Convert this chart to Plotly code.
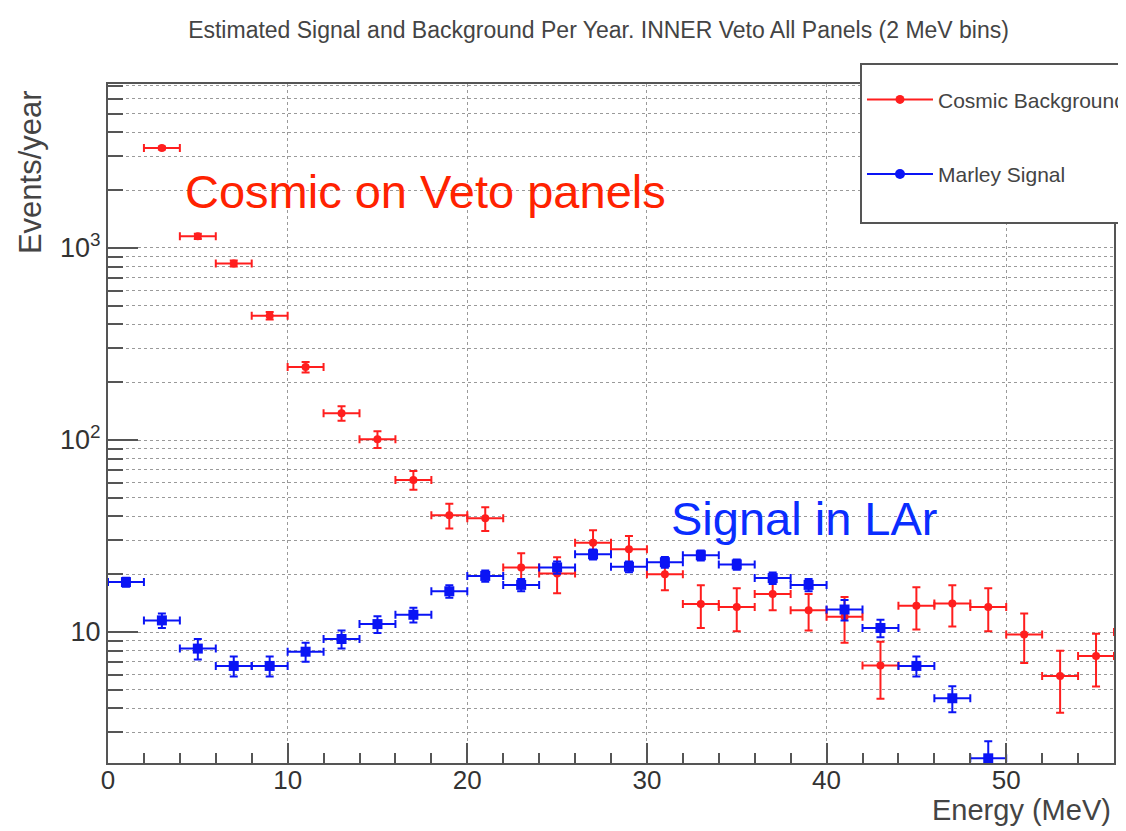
import plotly.graph_objects as go

# ---------------- data ----------------
cosmic_energy = [3, 5, 7, 9, 11, 13, 15, 17, 19, 21, 23, 25, 27, 29, 31, 33, 35, 37, 39, 41, 43, 45, 47, 49, 51, 53, 55, 57]
cosmic_rate = [3320, 1150, 830, 444, 240, 138, 101, 62, 40.6, 39.1, 21.7, 20.2, 29.2, 27.0, 20.0, 14.0, 13.5, 15.8, 13.0, 12.0, 6.7, 13.7, 14.1, 13.5, 9.7, 5.9, 7.5, 10.0]
cosmic_err = [60, 35, 30, 20, 15, 12, 10, 7, 6, 5.5, 4.0, 4.3, 4.7, 4.6, 3.5, 3.5, 3.4, 2.8, 2.8, 3.2, 2.2, 3.4, 3.4, 3.4, 2.8, 2.1, 2.3, 2.8]

signal_energy = [1, 3, 5, 7, 9, 11, 13, 15, 17, 19, 21, 23, 25, 27, 29, 31, 33, 35, 37, 39, 41, 43, 45, 47, 49]
signal_rate = [18.2, 11.5, 8.2, 6.66, 6.66, 7.9, 9.2, 11.0, 12.3, 16.3, 19.6, 17.6, 21.7, 25.4, 21.9, 23.1, 25.1, 22.5, 19.1, 17.6, 13.1, 10.5, 6.66, 4.52, 2.2]
signal_err = [1.0, 1.0, 1.0, 0.8, 0.8, 0.9, 1.0, 1.1, 1.1, 1.2, 1.3, 1.3, 1.6, 1.5, 1.4, 1.5, 1.5, 1.4, 1.3, 1.3, 1.6, 1.1, 0.8, 0.7, 0.5]

bin_half_width = 1.0  # 2 MeV bins

x_major = [0, 10, 20, 30, 40, 50]
x_minor = [v for v in range(2, 56, 2) if v % 10 != 0]
y_major = [10, 100, 1000]
y_major_text = ["10", "10<sup>2</sup>", "10<sup>3</sup>"]
y_minor = [m * 10 ** e for e in range(0, 4) for m in range(2, 10) if m * 10 ** e < 8000]

RED = "#FF1E1E"
BLUE = "#0A14F5"
FONT = "Arial, Liberation Sans, Helvetica, sans-serif"
AX = "#555555"
GRID = "#9a9a9a"

fig = go.Figure()

fig.add_trace(go.Scatter(
    x=cosmic_energy, y=cosmic_rate, mode="markers",
    marker=dict(symbol="circle", size=8, color=RED),
    error_x=dict(type="constant", value=bin_half_width, color=RED, thickness=2, width=4),
    error_y=dict(type="data", array=cosmic_err, color=RED, thickness=2, width=4),
    showlegend=False, name="Cosmic Background"))

fig.add_trace(go.Scatter(
    x=signal_energy, y=signal_rate, mode="markers",
    marker=dict(symbol="square", size=10, color=BLUE),
    error_x=dict(type="constant", value=bin_half_width, color=BLUE, thickness=2, width=4),
    error_y=dict(type="data", array=signal_err, color=BLUE, thickness=2, width=4),
    showlegend=False, name="Marley Signal"))

# legend entries
fig.add_trace(go.Scatter(x=[None], y=[None], mode="lines+markers", name="Cosmic Background<br>&nbsp;",
                         line=dict(color=RED, width=2), marker=dict(color=RED, size=9),
                         legendgroup="a"))
fig.add_trace(go.Scatter(x=[None], y=[None], mode="lines+markers", name="Marley Signal<br>&nbsp;",
                         line=dict(color=BLUE, width=2), marker=dict(color=BLUE, size=10),
                         legendgroup="b"))

fig.update_layout(
    width=1118, height=823,
    paper_bgcolor="white", plot_bgcolor="white",
    margin=dict(l=100, r=12, t=76, b=68, autoexpand=False),
    font=dict(family=FONT, color="#333333"),
    title=dict(text="Estimated Signal and Background Per Year. INNER Veto All Panels (2 MeV bins)",
               x=0.5282, xanchor="center", y=0.9733, yanchor="middle",
               font=dict(size=23, color="#444444", family=FONT)),
    showlegend=True,
    legend=dict(x=0.7475, xanchor="left", y=1.031, yanchor="top",
                bgcolor="white", bordercolor="#555555", borderwidth=2,
                font=dict(size=21, color="#444444", family=FONT),
                title=dict(text="&nbsp;", font=dict(size=11)),
                itemwidth=66, tracegroupgap=17, valign="top"),
    xaxis=dict(range=[0, 56], tickmode="array", tickvals=x_major,
               ticks="inside", ticklen=20, tickwidth=1.5, tickcolor=AX,
               ticklabelstandoff=-7,
               showline=True, linecolor=AX, linewidth=2, mirror=True,
               showgrid=True, gridcolor=GRID, griddash="dot", gridwidth=1,
               zeroline=False, tickfont=dict(size=26, color="#333333"),
               minor=dict(tickmode="array", tickvals=x_minor, ticks="inside", ticklen=10,
                          tickwidth=1.5, tickcolor=AX, showgrid=False)),
    yaxis=dict(type="log", range=[0.318, 3.854], tickmode="array", tickvals=y_major,
               ticktext=y_major_text,
               ticks="inside", ticklen=30, tickwidth=1.5, tickcolor=AX,
               showline=True, linecolor=AX, linewidth=2, mirror=True,
               showgrid=True, gridcolor=GRID, griddash="dot", gridwidth=1,
               zeroline=False, tickfont=dict(size=27, color="#333333"),
               minor=dict(tickmode="array", tickvals=y_minor, ticks="inside", ticklen=15,
                          tickwidth=1.5, tickcolor=AX, showgrid=True,
                          gridcolor=GRID, griddash="dot", gridwidth=1)),
    annotations=[
        dict(text="Events/year", textangle=-90, xref="paper", yref="paper",
             x=-0.0775, xanchor="center", y=0.994, yanchor="top", showarrow=False,
             font=dict(size=31, color="#444444", family=FONT)),
        dict(text="Energy (MeV)", xref="paper", yref="paper",
             x=0.999, xanchor="right", y=-0.069, yanchor="middle", showarrow=False,
             font=dict(size=29, color="#444444", family=FONT)),
        dict(text="Cosmic on Veto panels", xref="paper", yref="paper",
             x=0.0746, xanchor="left", y=0.841, yanchor="middle", showarrow=False,
             font=dict(size=47, color="#FF2200", family=FONT)),
        dict(text="Signal in LAr", xref="paper", yref="paper",
             x=0.5577, xanchor="left", y=0.3594, yanchor="middle", showarrow=False,
             font=dict(size=47, color="#0A2DFF", family=FONT)),
    ],
)

fig.write_html("out.html")
